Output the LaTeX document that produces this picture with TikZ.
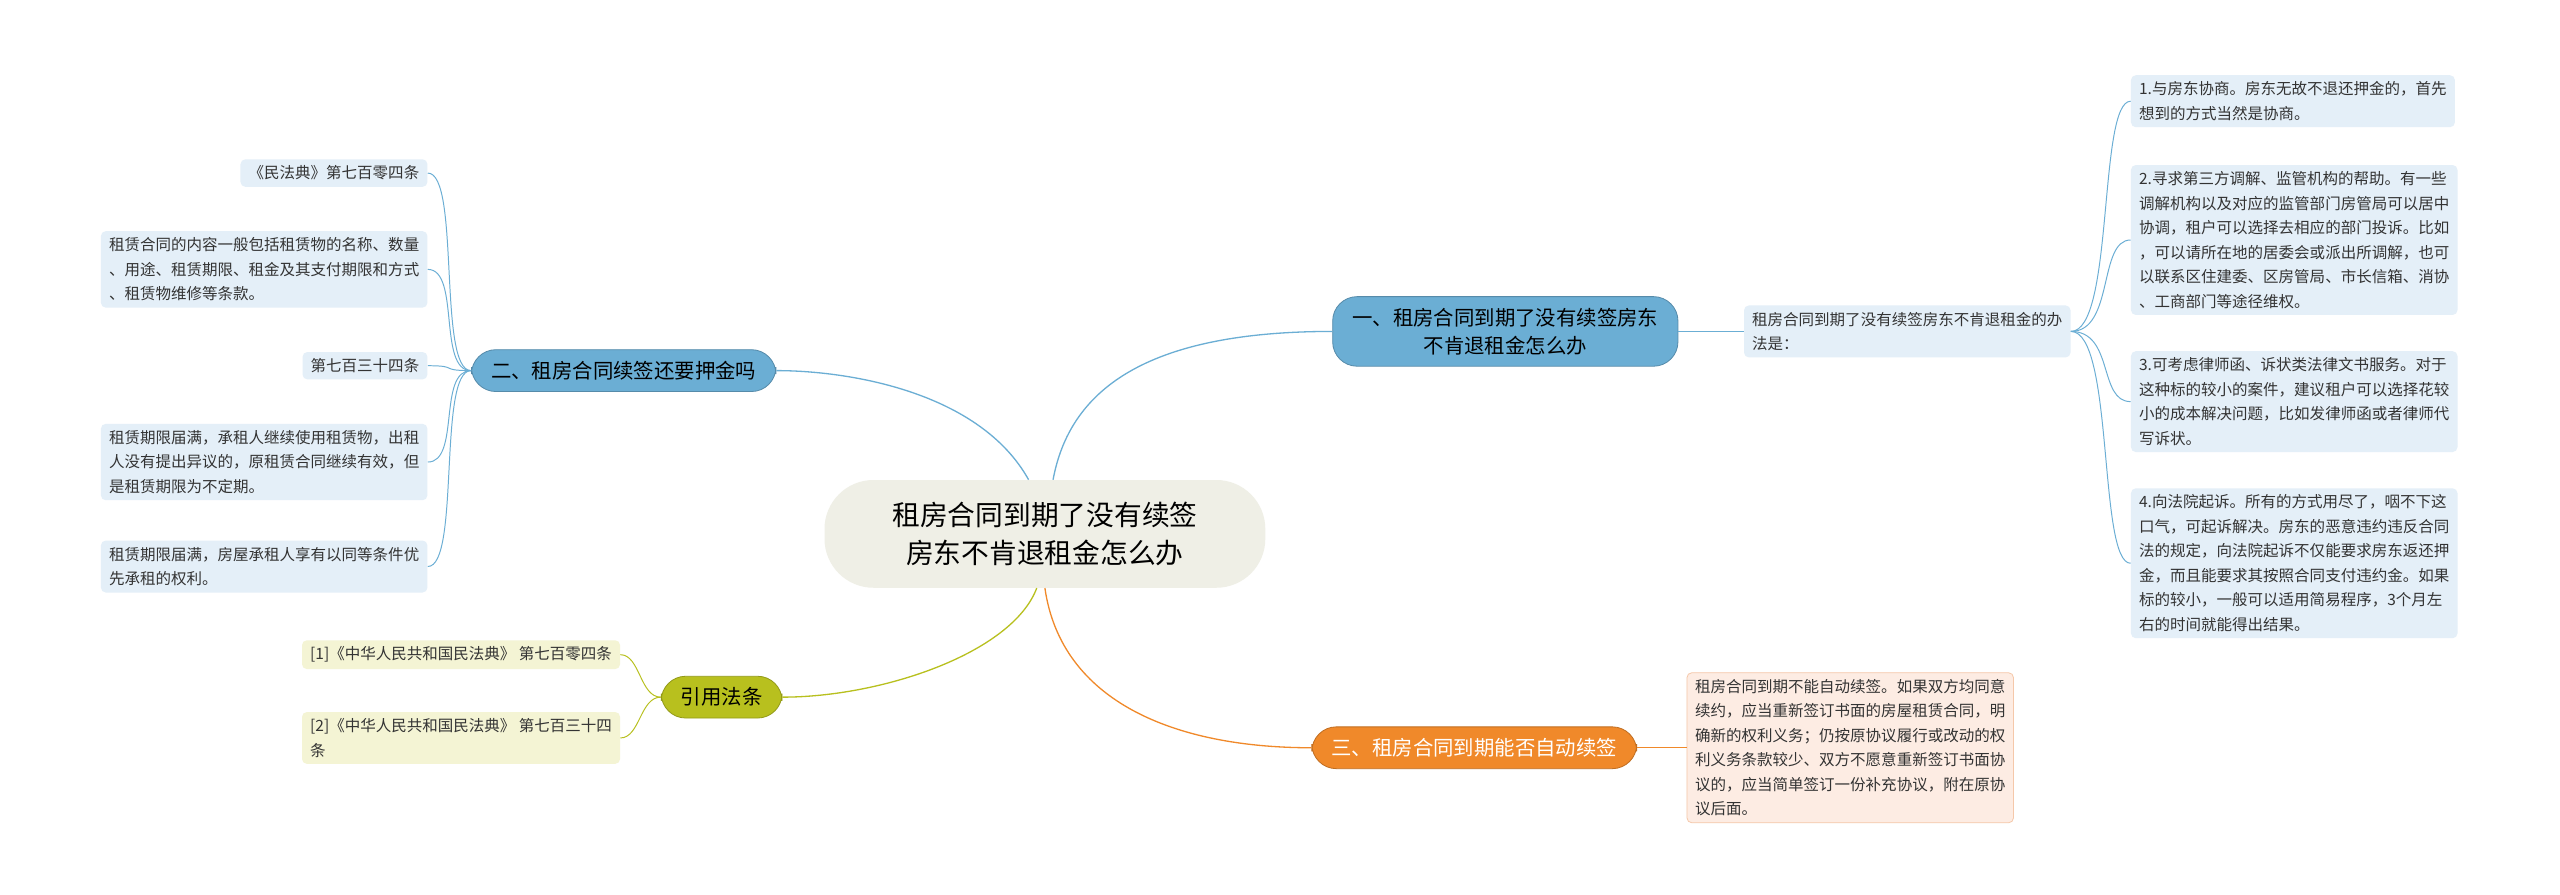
\documentclass[tikz,border=0pt]{standalone}
\usepackage{fontspec}
\setmainfont{Noto Sans CJK SC}
\begin{document}
\begin{tikzpicture}[x=1pt,y=-1pt,
 leaf/.style={rounded corners=3pt,inner xsep=5pt,inner ysep=4pt,align=left,font=\fontsize{9.5}{15}\selectfont,text=black!80},
 lb/.style={leaf,fill=cyan!6!blue!4!white,fill={rgb,255:red,228;green,239;blue,248}},
 ly/.style={leaf,fill={rgb,255:red,244;green,244;blue,212}},
 lo/.style={leaf,fill={rgb,255:red,253;green,236;blue,227},draw={rgb,255:red,245;green,200;blue,170},line width=0.5pt},
 br/.style={rounded corners=15pt,inner xsep=12pt,inner ysep=7pt,align=center,font=\fontsize{12.5}{17}\selectfont},
 lk/.style={line width=0.8pt}]
\definecolor{bblue}{RGB}{107,174,212}
\definecolor{bolive}{RGB}{184,192,30}
\definecolor{borange}{RGB}{240,137,42}
\definecolor{cfill}{RGB}{239,239,230}
\useasboundingbox[fill=white] (0,0) rectangle (1568,548);
\node[fill=cfill,rounded corners=30pt,minimum width=270,minimum height=66,align=center,font=\fontsize{17}{23}\selectfont] (c) at (640,327) {租房合同到期了没有续签\\房东不肯退租金怎么办};
\node[br,fill=bblue,draw=bblue!80!black,line width=0.5pt] (b1) at (922,203) {一、租房合同到期了没有续签房东\\不肯退租金怎么办};
\node[br,fill=bblue,draw=bblue!80!black,line width=0.5pt] (b2) at (382,227) {二、租房合同续签还要押金吗};
\node[br,fill=bolive,draw=bolive!80!black,line width=0.5pt] (b3) at (442,427) {引用法条};
\node[br,fill=borange,draw=borange!80!black,line width=0.5pt,text=white] (b4) at (903,458) {三、租房合同到期能否自动续签};
\draw[lk,bblue] (c.north)++(5,0) .. controls (655,240) and (700,203) .. (b1.west);
\draw[lk,bblue] (c.north)++(-10,0) .. controls (600,240) and (520,227) .. (b2.east);
\draw[lk,bolive] (c.south)++(-5,0) .. controls (620,400) and (540,427) .. (b3.east);
\draw[lk,borange] (c.south)++(0,0) .. controls (650,430) and (720,458) .. (b4.west);
% right branch 1
\node[lb,anchor=west] (m1) at (1068,203) {租房合同到期了没有续签房东不肯退租金的办\\法是：};
\draw[bblue,line width=0.6pt] (b1.east) -- (m1.west);
\node[lb,anchor=west] (r1) at (1305,62) {1.与房东协商。房东无故不退还押金的，首先\\想到的方式当然是协商。};
\node[lb,anchor=west] (r2) at (1305,147) {2.寻求第三方调解、监管机构的帮助。有一些\\调解机构以及对应的监管部门房管局可以居中\\协调，租户可以选择去相应的部门投诉。比如\\，可以请所在地的居委会或派出所调解，也可\\以联系区住建委、区房管局、市长信箱、消协\\、工商部门等途径维权。};
\node[lb,anchor=west] (r3) at (1305,246) {3.可考虑律师函、诉状类法律文书服务。对于\\这种标的较小的案件，建议租户可以选择花较\\小的成本解决问题，比如发律师函或者律师代\\写诉状。};
\node[lb,anchor=west] (r4) at (1305,345) {4.向法院起诉。所有的方式用尽了，咽不下这\\口气，可起诉解决。房东的恶意违约违反合同\\法的规定，向法院起诉不仅能要求房东返还押\\金，而且能要求其按照合同支付违约金。如果\\标的较小，一般可以适用简易程序，3个月左\\右的时间就能得出结果。};
\foreach \r in {r1,r2,r3,r4}
 \draw[bblue,line width=0.6pt] (m1.east) .. controls (1295,203) and (1285,0|-\r.west) .. (\r.west);
% left branch 2
\node[lb,anchor=east] (l1) at (262,106) {《民法典》第七百零四条};
\node[lb,anchor=east] (l2) at (262,165) {租赁合同的内容一般包括租赁物的名称、数量\\、用途、租赁期限、租金及其支付期限和方式\\、租赁物维修等条款。};
\node[lb,anchor=east] (l3) at (262,224) {第七百三十四条};
\node[lb,anchor=east] (l4) at (262,283) {租赁期限届满，承租人继续使用租赁物，出租\\人没有提出异议的，原租赁合同继续有效，但\\是租赁期限为不定期。};
\node[lb,anchor=east] (l5) at (262,347) {租赁期限届满，房屋承租人享有以同等条件优\\先承租的权利。};
\foreach \r in {l1,l2,l3,l4,l5}
 \draw[bblue,line width=0.6pt] (b2.west) .. controls (268,227) and (282,0|-\r.east) .. (\r.east);
% olive
\node[ly,anchor=east] (y1) at (380,401) {[1]《中华人民共和国民法典》 第七百零四条};
\node[ly,anchor=east] (y2) at (380,452) {[2]《中华人民共和国民法典》 第七百三十四\\条};
\foreach \r in {y1,y2}
 \draw[bolive,line width=0.6pt] (b3.west) .. controls (392,427) and (392,0|-\r.east) .. (\r.east);
% orange
\node[lo,anchor=west] (o1) at (1033,458) {租房合同到期不能自动续签。如果双方均同意\\续约，应当重新签订书面的房屋租赁合同，明\\确新的权利义务；仍按原协议履行或改动的权\\利义务条款较少、双方不愿意重新签订书面协\\议的，应当简单签订一份补充协议，附在原协\\议后面。};
\draw[borange,line width=0.6pt] (b4.east) -- (o1.west);
\end{tikzpicture}
\end{document}
